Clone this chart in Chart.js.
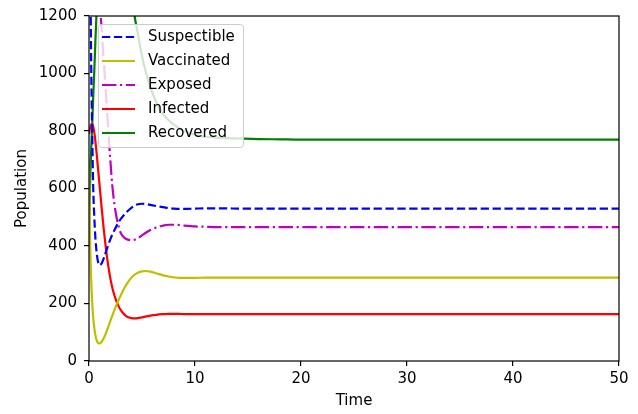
<!DOCTYPE html>
<html>
<head>
<meta charset="utf-8">
<script src="https://cdn.jsdelivr.net/npm/chart.js@4.4.0/dist/chart.umd.min.js"></script>
<style>
  html, body { margin: 0; padding: 0; background: #fff; }
</style>
</head>
<body>
<canvas id="seir" width="638" height="414"></canvas>
<script>
'use strict';

// simulation output, one value per time step
const time = [0, 0.1, 0.2, 0.3, 0.4, 0.5, 0.6, 0.7, 0.8, 0.9,
  1.0, 1.2, 1.4, 1.6, 1.8, 2.0, 2.2, 2.4, 2.6, 2.8,
  3.0, 3.3, 3.6, 4.0, 4.3, 4.6, 5.0, 5.4, 5.8, 6.2,
  6.6, 7.0, 7.5, 8.0, 8.5, 9, 10, 11, 12, 13,
  14, 16, 18, 20, 25, 30, 35, 40, 45, 50];

const susceptible = [1900, 1500, 1050, 800, 600, 500, 430, 385, 355, 338,
  333, 340, 358, 380, 402, 422, 440, 455, 470, 483,
  494, 508, 520, 533, 540, 545, 547, 546, 543, 540,
  537, 535, 532, 530, 529, 529, 530, 531, 531, 531,
  530, 530, 530, 530, 530, 530, 530, 530, 530, 530];

const vaccinated = [700, 430, 290, 205, 150, 115, 90, 75, 65, 61,
  61, 67, 80, 97, 117, 138, 158, 178, 196, 213,
  229, 251, 270, 290, 300, 307, 312, 313, 311, 307,
  302, 298, 294, 291, 289, 289, 289, 290, 290, 290,
  290, 290, 290, 290, 290, 290, 290, 290, 290, 290];

const exposed = [2600, 2550, 2450, 2330, 2200, 2050, 1900, 1750, 1580, 1420,
  1280, 1150, 1040, 930, 815, 705, 610, 545, 500, 468,
  445, 430, 423, 420, 422, 427, 437, 447, 456, 462,
  467, 471, 474, 474, 473, 471, 468, 467, 466, 466,
  466, 466, 466, 466, 466, 466, 466, 466, 466, 466];

const infected = [790, 810, 822, 825, 815, 795, 765, 730, 690, 650,
  610, 530, 455, 390, 335, 290, 255, 228, 207, 190,
  177, 163, 154, 149, 148, 149, 152, 155, 158, 160,
  162, 163, 164, 164, 164, 163, 163, 163, 163, 163,
  163, 163, 163, 163, 163, 163, 163, 163, 163, 163];

const recovered = [400, 610, 730, 820, 920, 1010, 1110, 1200, 1290, 1370,
  1450, 1580, 1680, 1750, 1790, 1800, 1790, 1760, 1720, 1670,
  1610, 1510, 1410, 1290, 1200, 1140, 1060, 1000, 952, 913,
  880, 858, 838, 822, 810, 800, 786, 780, 777, 775,
  774, 772, 771, 770, 770, 770, 770, 770, 770, 770];

const labels = ['Suspectible', 'Vaccinated', 'Exposed', 'Infected', 'Recovered'];
const xTicks = [0, 10, 20, 30, 40, 50];
const yTicks = [0, 200, 400, 600, 800, 1000, 1200];

const FONT = 'DejaVu Sans';

const toPoints = (vals) => time.map((t, i) => ({x: t, y: vals[i]}));

const series = (label, vals, color, dash) => ({
  label: label,
  data: toPoints(vals),
  borderColor: color,
  backgroundColor: color,
  borderWidth: 2.2,
  borderDash: dash,
  pointRadius: 0,
  cubicInterpolationMode: 'monotone',
  clip: 0,
  fill: false
});

// box around the whole plot area, like the four spines
const frame = {
  id: 'frame',
  afterDatasetsDraw(chart) {
    const ctx = chart.ctx;
    const a = chart.chartArea;
    ctx.save();
    ctx.strokeStyle = '#000';
    ctx.lineWidth = 1.2;
    ctx.strokeRect(a.left, a.top, a.right - a.left, a.bottom - a.top);
    ctx.restore();
  }
};

// legend in the upper left corner, drawn over the lines
const legendBox = {
  id: 'legendBox',
  afterDraw(chart) {
    const ctx = chart.ctx;
    const a = chart.chartArea;
    const x = a.left + 9;
    const y = a.top + 8;
    const w = 145;
    const h = 123;
    ctx.save();
    ctx.beginPath();
    ctx.roundRect(x + 0.5, y + 0.5, w, h, 3);
    ctx.fillStyle = 'rgba(255,255,255,0.8)';
    ctx.fill();
    ctx.strokeStyle = '#cccccc';
    ctx.lineWidth = 1;
    ctx.stroke();

    ctx.font = '15px "' + FONT + '"';
    ctx.textBaseline = 'middle';
    ctx.textAlign = 'left';
    chart.data.datasets.forEach((ds, i) => {
      let ry = y + 13 + i * 24;
      ctx.beginPath();
      ctx.setLineDash(ds.borderDash || []);
      ctx.strokeStyle = ds.borderColor;
      ctx.lineWidth = ds.borderWidth;
      ctx.moveTo(x + 4, ry);
      ctx.lineTo(x + 37, ry);
      ctx.stroke();
      ctx.setLineDash([]);
      ctx.fillStyle = '#000';
      ctx.fillText(ds.label, x + 50, ry);
    });
    ctx.restore();
  }
};

const plainNumber = (v) => String(v);

const ctx = document.getElementById('seir');
const chart = new Chart(ctx, {
  type: 'line',
  data: {
    datasets: [
      series(labels[0], susceptible, '#0000ff', [8.3, 3.6]),
      series(labels[1], vaccinated, '#bfbf00', []),
      series(labels[2], exposed, '#bf00bf', [14.4, 3.6, 2.2, 3.6]),
      series(labels[3], infected, '#ff0000', []),
      series(labels[4], recovered, '#008000', [])
    ]
  },
  options: {
    responsive: false,
    animation: false,
    devicePixelRatio: 1,
    layout: {
      padding: {left: 0, top: 15, right: 19, bottom: 0}
    },
    plugins: {
      legend: {display: false},
      tooltip: {enabled: false}
    },
    scales: {
      x: {
        type: 'linear',
        min: 0,
        max: 50,
        afterBuildTicks: (scale) => { scale.ticks = xTicks.map(v => ({value: v})); },
        afterFit: (scale) => { scale.height = 53; },
        border: {display: false},
        grid: {drawOnChartArea: false, drawTicks: true, tickLength: 5, color: '#000', lineWidth: 1.2},
        ticks: {color: '#000', padding: 4, font: {family: FONT, size: 15}, maxRotation: 0, callback: plainNumber},
        title: {display: true, text: 'Time', color: '#000', font: {family: FONT, size: 15}, padding: {top: 0, bottom: 4}}
      },
      y: {
        min: 0,
        max: 1200,
        afterBuildTicks: (scale) => { scale.ticks = yTicks.map(v => ({value: v})); },
        afterFit: (scale) => { scale.width = 89; },
        border: {display: false},
        grid: {drawOnChartArea: false, drawTicks: true, tickLength: 5, color: '#000', lineWidth: 1.2},
        ticks: {color: '#000', padding: 7, font: {family: FONT, size: 15}, callback: plainNumber},
        title: {display: true, text: 'Population', color: '#000', font: {family: FONT, size: 15}, padding: {top: 13, bottom: 0}}
      }
    }
  },
  plugins: [frame, legendBox]
});
</script>
</body>
</html>
